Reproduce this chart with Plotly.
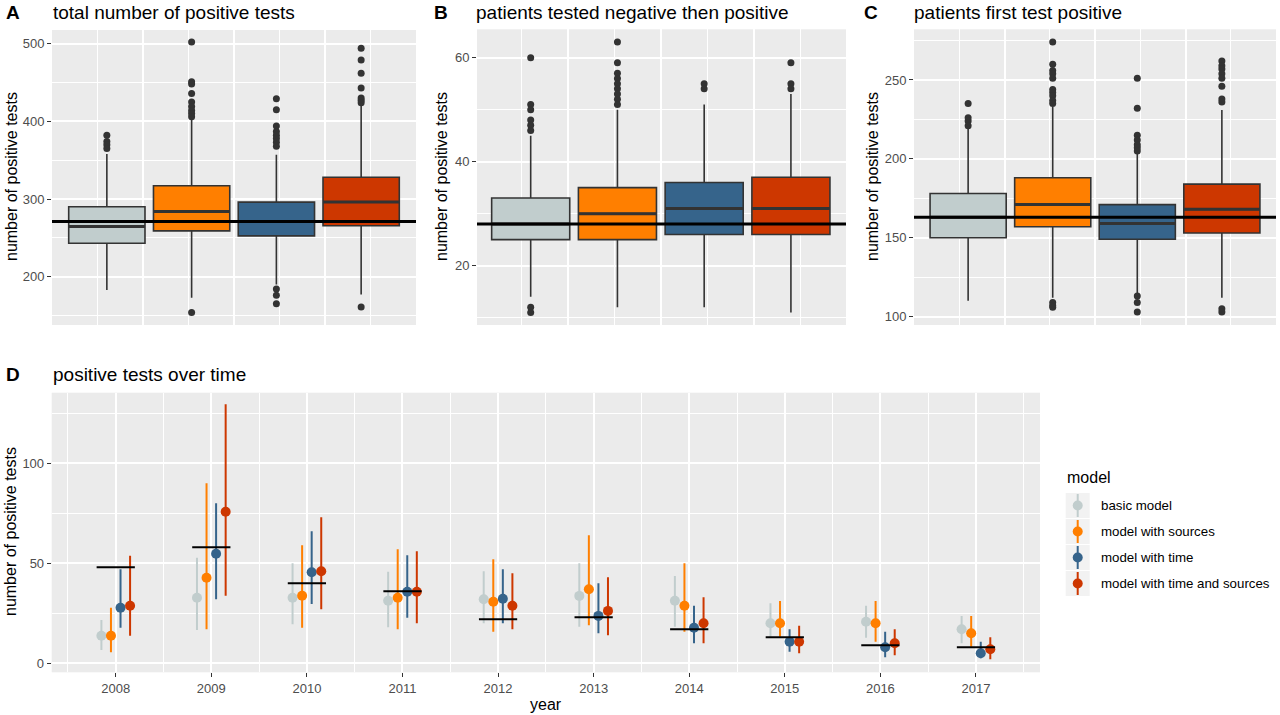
import plotly.graph_objects as go

# ---------------- data ----------------
models = ["basic model", "model with sources", "model with time", "model with time and sources"]
model_colors = ["#C1CDCD", "#FF7F00", "#36648B", "#CD3700"]

# Panel A: total number of positive tests
a_q1 = [243, 259, 252.5, 265.5]
a_med = [264.5, 284, 271, 296]
a_q3 = [290, 317, 296, 328]
a_lo = [183, 173, 190, 177]
a_hi = [358, 403, 357, 420]
a_out = [[382, 374, 370, 365],
         [502, 451, 448, 436, 425, 419, 414, 410, 406, 154],
         [429, 415, 394, 387, 382, 378, 373, 368, 184, 176, 165],
         [494, 479, 462, 443, 430, 427, 424, 161]]
a_obs = 271

# Panel B: patients tested negative then positive
b_q1 = [25, 25, 26, 26]
b_med = [28, 30, 31, 31]
b_q3 = [33, 35, 36, 37]
b_lo = [14, 12, 12, 11]
b_hi = [45, 50, 51, 53]
b_out = [[60, 51, 50, 48, 47, 46, 12, 11],
         [63, 59, 57, 56, 55, 54, 53, 52, 51],
         [55, 54],
         [59, 55, 54]]
b_obs = 28

# Panel C: patients first test positive
c_q1 = [150, 157, 149, 153]
c_med = [163, 171, 159, 168]
c_q3 = [178, 188, 171, 184]
c_lo = [110, 112, 115, 112]
c_hi = [220, 233, 204, 231]
c_out = [[235, 226, 224, 221],
         [274, 260, 256, 254, 251, 244, 242, 240, 237, 235, 109, 107, 106],
         [251, 232, 215, 212, 209, 207, 205, 113, 109, 103],
         [262, 259, 257, 254, 251, 246, 238, 236, 105, 103]]
c_obs = 163

# Panel D: positive tests over time
years = [2008, 2009, 2010, 2011, 2012, 2013, 2014, 2015, 2016, 2017]
d_obs = [48, 58, 40, 36, 22, 23, 17, 13, 9, 8]
basic_mid = [13.8, 32.8, 32.8, 31.3, 32, 33.7, 31.3, 20, 20.8, 17]
basic_lo = [6.7, 16.7, 19.5, 18, 20, 18.3, 18.3, 13.3, 12.8, 10]
basic_hi = [21.7, 52.8, 50, 45.8, 46, 50, 43.7, 30, 28.8, 23.7]
sources_mid = [13.8, 42.8, 33.8, 32.8, 30.8, 37, 28.8, 20, 20, 15]
sources_lo = [5.5, 17, 17.8, 17, 15.8, 19, 15.8, 13.3, 10.8, 8.3]
sources_hi = [27.8, 90, 59, 57, 52, 64, 50, 31.2, 31.2, 23.7]
time_mid = [27.8, 54.8, 45.5, 35.8, 32.3, 23.7, 17.8, 10.8, 8, 5]
time_lo = [17.8, 32, 29.7, 22.8, 20, 15, 10, 5.8, 3, 2.5]
time_hi = [47, 80, 66, 54, 47, 40, 28.8, 17, 15.8, 10.8]
both_mid = [28.8, 75.8, 46, 35.8, 28.8, 26.2, 20, 10.8, 10, 7]
both_lo = [13.8, 33.8, 27, 20, 17, 14, 10, 5, 4, 2]
both_hi = [53.8, 129.5, 73, 56, 45, 43, 33, 18.8, 17, 13]

d_mid = [basic_mid, sources_mid, time_mid, both_mid]
d_lo = [basic_lo, sources_lo, time_lo, both_lo]
d_hi = [basic_hi, sources_hi, time_hi, both_hi]

# ---------------- figure ----------------
W, H = 1280, 715
FONT = "Liberation Sans, Arial, Helvetica, sans-serif"
BOXLINE = "#333333"
TICKCOL = "#4D4D4D"


def fx(p):
    return p / W


def fy(p):
    return 1 - p / H


fig = go.Figure()

box_panels = [
    ("x", "y", a_q1, a_med, a_q3, a_lo, a_hi, a_out, a_obs),
    ("x2", "y2", b_q1, b_med, b_q3, b_lo, b_hi, b_out, b_obs),
    ("x3", "y3", c_q1, c_med, c_q3, c_lo, c_hi, c_out, c_obs),
]

for xa, ya, q1, med, q3, lo, hi, outs, obs in box_panels:
    for i in range(4):
        pos = i + 1
        fig.add_trace(go.Box(
            x=[pos], q1=[q1[i]], median=[med[i]], q3=[q3[i]],
            lowerfence=[lo[i]], upperfence=[hi[i]],
            width=0.9, fillcolor=model_colors[i],
            line=dict(color=BOXLINE, width=1.6),
            boxpoints=False, whiskerwidth=0,
            xaxis=xa, yaxis=ya, showlegend=False, hoverinfo="skip"))
        fig.add_trace(go.Scatter(
            x=[pos - 0.45, pos + 0.45], y=[med[i], med[i]], mode="lines",
            line=dict(color=BOXLINE, width=3),
            xaxis=xa, yaxis=ya, showlegend=False, hoverinfo="skip"))
        fig.add_trace(go.Scatter(
            x=[pos] * len(outs[i]), y=outs[i], mode="markers",
            marker=dict(color=BOXLINE, size=7),
            xaxis=xa, yaxis=ya, showlegend=False, hoverinfo="skip"))
    fig.add_shape(type="line", xref=xa + " domain", yref=ya,
                  x0=0, x1=1, y0=obs, y1=obs,
                  line=dict(color="black", width=3))

# Panel D
offsets = [-0.15, -0.05, 0.05, 0.15]
for m in range(4):
    xs = [yr + offsets[m] for yr in years]
    up = [h - c for h, c in zip(d_hi[m], d_mid[m])]
    dn = [c - l for c, l in zip(d_mid[m], d_lo[m])]
    fig.add_trace(go.Scatter(
        x=xs, y=d_mid[m], mode="markers",
        marker=dict(color=model_colors[m], size=10),
        error_y=dict(type="data", symmetric=False, array=up, arrayminus=dn,
                     color=model_colors[m], thickness=2, width=0),
        xaxis="x4", yaxis="y4", name=models[m], showlegend=False, hoverinfo="skip"))

seg_x, seg_y = [], []
for yr, o in zip(years, d_obs):
    seg_x += [yr - 0.2, yr + 0.2, None]
    seg_y += [o, o, None]
fig.add_trace(go.Scatter(x=seg_x, y=seg_y, mode="lines",
                         line=dict(color="black", width=2),
                         xaxis="x4", yaxis="y4", showlegend=False, hoverinfo="skip"))

# ---------------- axes ----------------
grid_common = dict(gridcolor="white", gridwidth=2, zeroline=False, showline=False)


def box_xaxis(d0, d1, rng):
    return dict(domain=[fx(d0), fx(d1)], range=rng, tickmode="array",
                tickvals=[1.43, 2.5, 3.57], showticklabels=False, ticks="",
                minor=dict(tickmode="array", tickvals=[0.895, 1.965, 3.035, 4.105],
                           showgrid=True, gridcolor="white", gridwidth=1, ticks=""),
                **grid_common)


def yaxis_def(anchor, p0, p1, rng, major, minor):
    return dict(anchor=anchor, domain=[fy(p1), fy(p0)], range=rng, tickmode="array",
                tickvals=major, ticks="outside", ticklen=4, tickwidth=1.2,
                tickcolor="#333333", tickfont=dict(size=13, color=TICKCOL, family=FONT),
                minor=dict(tickmode="array", tickvals=minor, showgrid=True,
                           gridcolor="white", gridwidth=1, ticks=""),
                **grid_common)


fig.update_layout(
    width=W, height=H,
    margin=dict(l=0, r=0, t=0, b=0),
    paper_bgcolor="white", plot_bgcolor="#EBEBEB",
    boxmode="overlay",
    font=dict(family=FONT, color="black"),
    showlegend=False,
    xaxis=box_xaxis(52, 416, [0.353, 4.647]) | dict(anchor="y"),
    yaxis=yaxis_def("x", 30, 325, [137.8, 517.6], [200, 300, 400, 500], [150, 250, 350, 450]),
    xaxis2=box_xaxis(477, 846, [0.381, 4.635]) | dict(anchor="y2"),
    yaxis2=yaxis_def("x2", 29.3, 325, [8.59, 65.45], [20, 40, 60], [10, 30, 50]),
    xaxis3=box_xaxis(914, 1276, [0.36, 4.64]) | dict(anchor="y3"),
    yaxis3=yaxis_def("x3", 29.3, 325, [94.7, 282.1], [100, 150, 200, 250], [125, 175, 225, 275]),
    xaxis4=dict(anchor="y4", domain=[fx(51.7), fx(1040)], range=[2007.33, 2017.67],
                tickmode="array", tickvals=years, ticktext=[str(y) for y in years],
                ticks="outside", ticklen=4, tickwidth=1.2, tickcolor="#333333",
                tickfont=dict(size=13, color=TICKCOL, family=FONT),
                minor=dict(tickmode="array", tickvals=[y + 0.5 for y in [2007] + years],
                           showgrid=True, gridcolor="white", gridwidth=1, ticks=""),
                **grid_common),
    yaxis4=yaxis_def("x4", 392.7, 672.3, [-4.5, 135.3], [0, 50, 100], [25, 75, 125]),
)

# ---------------- text ----------------
ann = []


def text(x, y, s, size, bold=False, angle=0, xanchor="left", color="black"):
    ann.append(dict(x=fx(x), y=fy(y), xref="paper", yref="paper", text=("<b>%s</b>" % s) if bold else s,
                    showarrow=False, xanchor=xanchor, yanchor="middle", textangle=angle,
                    font=dict(size=size, family=FONT, color=color)))


# panel letters and titles
text(4, 12, "A", 19, bold=True)
text(51, 12, "total number of positive tests", 19)
text(432, 12, "B", 19, bold=True)
text(474, 12, "patients tested negative then positive", 19)
text(862, 12, "C", 19, bold=True)
text(912, 12, "patients first test positive", 19)
text(4, 374, "D", 19, bold=True)
text(51, 374, "positive tests over time", 19)

# axis titles
for xc, yc in [(11, 177), (441, 177), (872, 177), (10, 532)]:
    text(xc, yc, "number of positive tests", 16, angle=-90, xanchor="center")
text(546, 704, "year", 16, xanchor="center")

# legend (drawn manually to match ggplot style)
text(1065, 477, "model", 16)
shapes = []
for k in range(4):
    top = 493 + 26 * k
    bot = top + 25
    cx = 1077.7
    cy = (top + bot) / 2
    shapes.append(dict(type="rect", xref="paper", yref="paper",
                       x0=fx(1065.7), x1=fx(1089.7), y0=fy(bot), y1=fy(top),
                       fillcolor="#F2F2F2", line=dict(width=0), layer="above"))
    shapes.append(dict(type="line", xref="paper", yref="paper",
                       x0=fx(cx), x1=fx(cx), y0=fy(bot - 1), y1=fy(top + 1),
                       line=dict(color=model_colors[k], width=2), layer="above"))
    shapes.append(dict(type="circle", xref="paper", yref="paper",
                       x0=fx(cx - 5), x1=fx(cx + 5), y0=fy(cy + 5), y1=fy(cy - 5),
                       fillcolor=model_colors[k], line=dict(width=0), layer="above"))
    text(1099, cy, models[k], 13.3)

for s in shapes:
    fig.add_shape(**s)
fig.update_layout(annotations=ann)

fig.write_html("out.html",
               config={"displayModeBar": False},
               post_script="document.body.style.margin='0';document.body.style.overflow='hidden';")
